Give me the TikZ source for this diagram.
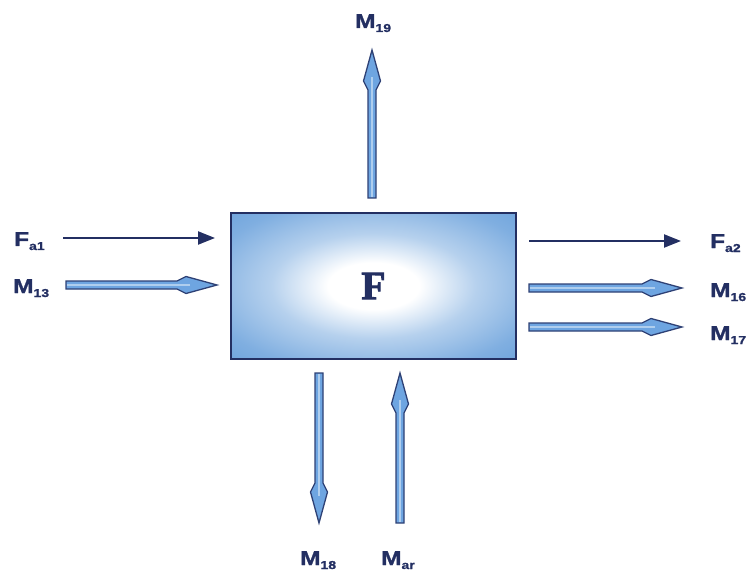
\documentclass[tikz,border=0pt]{standalone}
\usepackage{fontspec}
\newfontfamily\labfont[FakeStretch=1.22,FakeBold=1.2]{Liberation Sans}
\newfontfamily\boxfont[FakeBold=2.2]{Liberation Serif}
\usetikzlibrary{calc,arrows.meta}
\definecolor{navy}{RGB}{35,47,98}
\definecolor{arrblue}{RGB}{110,165,225}
\definecolor{boxblue}{RGB}{92,152,216}
\pgfdeclareradialshading{boxshade}{\pgfpoint{0bp}{0bp}}{%
  color(0bp)=(white); color(8bp)=(white); color(18bp)=(boxblue!45);
  color(30bp)=(boxblue!78); color(44bp)=(boxblue); color(100bp)=(boxblue)}
\newcommand\lab[2]{\labfont\bfseries\fontsize{20}{22}\selectfont #1\raisebox{-4pt}{\fontsize{11.5}{12}\selectfont #2}}
\newcommand\fatarrow[2]{%
  \coordinate (fa1) at ($(#2)!40pt!(#1)$);
  \coordinate (fa2) at ($(#2)!31pt!(#1)$);
  \filldraw[fatst] ($(#1)!4pt!90:(#2)$) -- ($(fa1)!4pt!90:(#2)$) -- ($(fa2)!8.5pt!90:(#2)$) -- (#2)
    -- ($(fa2)!8.5pt!-90:(#2)$) -- ($(fa1)!4pt!-90:(#2)$) -- ($(#1)!4pt!-90:(#2)$) -- cycle;
  \draw[white!45!arrblue, line width=1.6pt] ($(#1)!1pt!(#2)$) -- ($(fa2)!4pt!(#2)$);}
\tikzset{
  fatst/.style={fill=arrblue, draw=navy!85!arrblue, line width=1.3pt, line join=miter},
  thinarr/.style={draw=navy, line width=2.2pt, -{Triangle[length=17pt,width=13pt]}},
  lbl/.style={text=navy, inner sep=0pt},
}
\begin{document}
\begin{tikzpicture}[x=1pt,y=-1pt]
\useasboundingbox (0,0) rectangle (749,577);
\node[draw=navy, line width=2pt, shading=boxshade,
      minimum width=285pt, minimum height=146pt, inner sep=0pt] (box) at (373.5,286)
      {\boxfont\bfseries\fontsize{40}{40}\selectfont\color{navy}F};
% labels (anchor base west: baseline of the capital)
\node[lbl, anchor=base west] (fa1) at (14,246) {\lab{F}{a1}};
\node[lbl, anchor=base west] (m13) at (13,293) {\lab{M}{13}};
\node[lbl, anchor=base west] (fa2) at (710,248) {\lab{F}{a2}};
\node[lbl, anchor=base west] (m16) at (710,297) {\lab{M}{16}};
\node[lbl, anchor=base west] (m17) at (710,340) {\lab{M}{17}};
\node[lbl, anchor=base west] (m19) at (355,28) {\lab{M}{19}};
\node[lbl, anchor=base west] (m18) at (300,565) {\lab{M}{18}};
\node[lbl, anchor=base west] (mar) at (381,565) {\lab{M}{ar}};
% arrow end coordinates
\coordinate (a1s) at (63,238);  \coordinate (a1e) at (215,238);
\coordinate (m13s) at (66,285); \coordinate (m13e) at (217,285);
\coordinate (a2s) at (529,241); \coordinate (a2e) at (681,241);
\coordinate (m16s) at (529,288); \coordinate (m16e) at (682,288);
\coordinate (m17s) at (529,327); \coordinate (m17e) at (682,327);
\coordinate (m19s) at (372,198); \coordinate (m19e) at (372,50);
\coordinate (m18s) at (319,373); \coordinate (m18e) at (319,523);
\coordinate (mars) at (400,523); \coordinate (mare) at (400,373);
% arrows
\draw[thinarr] (a1s) -- (a1e);
\draw[thinarr] (a2s) -- (a2e);
\fatarrow{m13s}{m13e}
\fatarrow{m16s}{m16e}
\fatarrow{m17s}{m17e}
\fatarrow{m19s}{m19e}
\fatarrow{m18s}{m18e}
\fatarrow{mars}{mare}
\end{tikzpicture}
\end{document}
